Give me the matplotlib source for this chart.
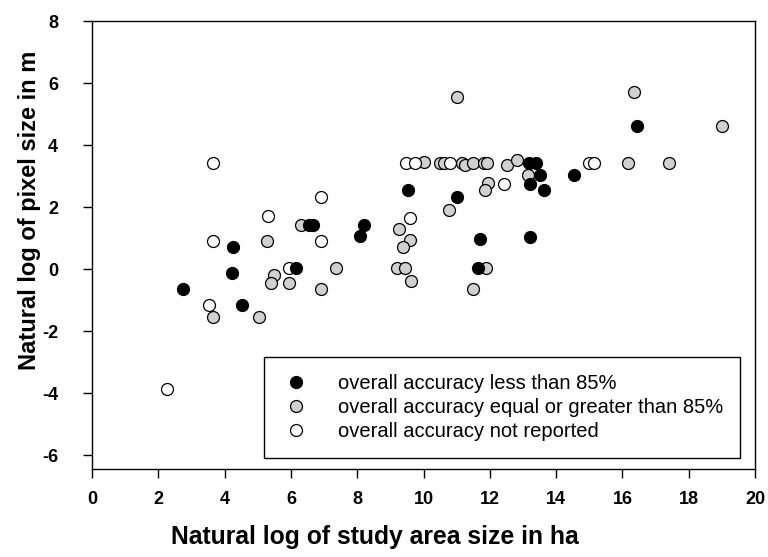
import matplotlib
matplotlib.use("Agg")
import matplotlib.pyplot as plt
from matplotlib.lines import Line2D

plt.rcParams['font.family'] = ['Liberation Sans', 'DejaVu Sans']
plt.rcParams['axes.unicode_minus'] = False

# overall accuracy less than 85%
x_low = [2.75, 4.26, 4.23, 4.53, 6.16, 6.56, 6.68, 8.22, 8.07, 9.52, 11.0,
         11.69, 11.63, 13.2, 13.17, 13.38, 13.5, 13.2, 13.63, 14.53, 16.43]
y_low = [-0.65, 0.71, -0.13, -1.16, 0.03, 1.42, 1.42, 1.42, 1.06, 2.55, 2.32,
         0.97, 0.03, 1.03, 3.42, 3.42, 3.03, 2.74, 2.55, 3.03, 4.61]

# overall accuracy equal or greater than 85%
x_high = [3.66, 5.05, 5.29, 5.5, 5.41, 5.95, 6.31, 6.92, 7.37, 9.21, 9.43,
          9.27, 9.58, 9.37, 9.61, 10.0, 10.76, 11.0, 10.51, 10.63, 11.15,
          11.24, 11.48, 11.84, 11.93, 12.51, 12.81, 13.14, 11.96, 11.87, 11.9,
          11.48, 16.34, 16.16, 17.4, 19.0]
y_high = [-1.55, -1.55, 0.90, -0.19, -0.45, -0.45, 1.42, -0.65, 0.03, 0.03, 0.03,
          1.29, 0.94, 0.71, -0.39, 3.45, 1.90, 5.55, 3.42, 3.42, 3.42,
          3.35, 3.42, 3.42, 3.42, 3.35, 3.52, 3.03, 2.77, 2.55, 0.03,
          -0.65, 5.71, 3.42, 3.42, 4.61]

# overall accuracy not reported
x_nr = [2.27, 3.53, 3.66, 3.66, 5.32, 5.95, 6.92, 6.92, 9.46, 9.73, 9.58,
        10.79, 12.42, 14.98, 15.14]
y_nr = [-3.87, -1.16, 3.42, 0.90, 1.71, 0.03, 2.32, 0.90, 3.42, 3.42, 1.65,
        3.42, 2.74, 3.42, 3.42]

labels = ["overall accuracy less than 85%",
          "overall accuracy equal or greater than 85%",
          "overall accuracy not reported"]
x_ticks = [0, 2, 4, 6, 8, 10, 12, 14, 16, 18, 20]
y_ticks = [-6, -4, -2, 0, 2, 4, 6, 8]

fig = plt.figure(figsize=(7.68, 5.57), dpi=100)
ax = fig.add_axes([92/768, 1-469/557, (755-92)/768, (469-21)/557])

ms = 8.6
kw = dict(linestyle='none', marker='o', markersize=ms, markeredgecolor='black',
          markeredgewidth=0.9)
ax.plot(x_high, y_high, markerfacecolor='#d0d0d0', zorder=3, **kw)
ax.plot(x_nr, y_nr, markerfacecolor='white', zorder=4, **kw)
ax.plot(x_low, y_low, markerfacecolor='black', zorder=5, **kw)

ax.set_xlim(0, 20)
ax.set_ylim(-6.45, 8)
ax.set_xticks(x_ticks)
ax.set_yticks(y_ticks)
for s in ['top', 'right', 'left', 'bottom']:
    ax.spines[s].set_linewidth(1.0)
ax.tick_params(direction='out', length=6.5, width=1.0, labelsize=13)
ax.tick_params(axis='x', pad=9)
ax.tick_params(axis='y', pad=18)
for t in ax.get_xticklabels() + ax.get_yticklabels():
    t.set_fontweight('bold')

ax.set_xlabel("Natural log of study area size in ha", fontsize=17.8,
              fontweight='bold')
ax.set_ylabel("Natural log of pixel size in m", fontsize=17,
              fontweight='bold')
ax.xaxis.set_label_coords((375-92)/663, (469-537)/448)
ax.yaxis.set_label_coords((30-92)/663, (469-210)/448)
ax.xaxis.label.set_va('center')
ax.yaxis.label.set_va('center')

handles = [
    Line2D([], [], marker='o', linestyle='none', markersize=ms, markerfacecolor='black',
           markeredgecolor='black', markeredgewidth=0.9),
    Line2D([], [], marker='o', linestyle='none', markersize=ms, markerfacecolor='#d0d0d0',
           markeredgecolor='black', markeredgewidth=0.9),
    Line2D([], [], marker='o', linestyle='none', markersize=ms, markerfacecolor='white',
           markeredgecolor='black', markeredgewidth=0.9),
]
leg = ax.legend(handles, labels, loc='lower right',
                bbox_to_anchor=((740-92)/663, (469-458)/448),
                fontsize=14.5, frameon=True, fancybox=False, edgecolor='black',
                framealpha=1, borderpad=0.85, handletextpad=1.3, labelspacing=0.25,
                borderaxespad=0, handlelength=1.5)
leg.get_frame().set_linewidth(1.0)

fig.savefig("out.png", dpi=100)
